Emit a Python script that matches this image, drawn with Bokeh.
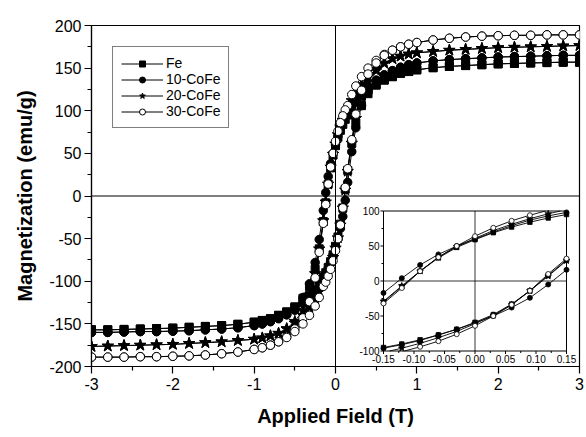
import numpy as np
from bokeh.plotting import figure
from bokeh.models import Range1d, Span, Legend, LegendItem, FixedTicker
from bokeh.core.properties import value
from bokeh.embed import file_html
from bokeh.resources import INLINE

# ---------------- data ----------------
# descending branch: field swept from +3 T to -3 T
field_desc = [3.0, 2.8, 2.6, 2.4, 2.2, 2.0, 1.8, 1.6, 1.4, 1.2,
              1.0, 0.9, 0.8, 0.7, 0.6, 0.5, 0.4,
              0.32, 0.25, 0.2,
              0.15, 0.12, 0.09, 0.06, 0.03, 0.0, -0.03, -0.06, -0.09, -0.12, -0.15,
              -0.2, -0.25, -0.32,
              -0.4, -0.5, -0.6, -0.7, -0.8, -0.9, -1.0,
              -1.2, -1.4, -1.6, -1.8, -2.0, -2.2, -2.4, -2.6, -2.8, -3.0]
# ascending branch: field swept from -3 T to +3 T
field_asc = [-3.0, -2.8, -2.6, -2.4, -2.2, -2.0, -1.8, -1.6, -1.4, -1.2,
             -1.0, -0.9, -0.8, -0.7, -0.6, -0.5, -0.4,
             -0.32, -0.25, -0.2,
             -0.15, -0.12, -0.09, -0.06, -0.03, 0.0, 0.03, 0.06, 0.09, 0.12, 0.15,
             0.2, 0.25, 0.32,
             0.4, 0.5, 0.6, 0.7, 0.8, 0.9, 1.0,
             1.2, 1.4, 1.6, 1.8, 2.0, 2.2, 2.4, 2.6, 2.8, 3.0]

m_fe_desc = [157, 157, 156.5, 156, 155.5, 155, 154, 153, 152, 150.5,
             148, 146, 144, 140, 136, 131, 124,
             117, 110, 103,
             95, 90, 84, 77, 69, 59, 48, 33, 14, -8, -30,
             -62, -86, -106,
             -120, -130, -136, -140, -144, -146, -148,
             -150.5, -152, -153, -154, -155, -155.5, -156, -156.5, -157, -157]
m_fe_asc = [-157, -157, -156.5, -156, -155.5, -155, -154, -153, -152, -150.5,
            -148, -146, -144, -140, -136, -131, -124,
            -117, -110, -103,
            -95, -90, -84, -77, -69, -59, -48, -33, -14, 8, 30,
            62, 86, 106,
            120, 130, 136, 140, 144, 146, 148,
            150.5, 152, 153, 154, 155, 155.5, 156, 156.5, 157, 157]

m_10cofe_desc = [165, 165, 164.5, 164, 163.5, 163, 162, 161, 160, 158.5,
                 156, 154, 151, 147, 142, 136, 128,
                 121, 113, 106,
                 98, 93, 87, 79, 70, 60, 50, 38, 23, 4, -17,
                 -51, -78, -103,
                 -119, -131, -138, -143, -147, -150, -152,
                 -154.5, -156, -157, -158, -158.5, -159, -159, -159.5, -160, -160]
m_10cofe_asc = [-160, -160, -159.5, -159, -159, -158.5, -158, -157, -156, -154.5,
                -152, -150, -147.5, -144, -139.5, -134, -126,
                -119, -111, -104,
                -96, -91, -85, -77, -69, -60, -50, -38, -24, -5, 16,
                52, 80, 106,
                123, 135, 142, 147, 151, 154, 156,
                158.5, 160, 161, 162, 163, 163.5, 164, 164.5, 165, 165]

m_20cofe_desc = [176.5, 176, 175.5, 175, 174.5, 174, 173, 172, 171, 169.5,
                 168, 166.5, 164, 161, 156, 149, 140,
                 131, 121, 112,
                 102, 96, 89, 81, 72, 61, 49, 34, 14, -7, -29,
                 -62, -91, -116,
                 -134, -147, -155.5, -161, -164, -166.5, -168,
                 -169.5, -171, -172, -173, -174, -174.5, -175, -175.5, -176, -176.5]
m_20cofe_asc = [-176.5, -176, -175.5, -175, -174.5, -174, -173, -172, -171, -169.5,
                -168, -166.5, -164, -161, -156, -149, -140,
                -131, -121, -112,
                -102, -96, -89, -81, -72, -61, -49, -34, -14, 7, 29,
                62, 91, 116,
                134, 147, 155.5, 161, 164, 166.5, 168,
                169.5, 171, 172, 173, 174, 174.5, 175, 175.5, 176, 176.5]

m_30cofe_desc = [189, 189, 189, 188.5, 188.5, 188, 187.5, 186.5, 185, 183,
                 180, 178, 175, 171, 166, 159, 150,
                 140, 129, 119,
                 106, 101, 94, 86, 76, 64, 50, 34, 14, -10, -32,
                 -66, -96, -124,
                 -143, -156, -165, -171, -175, -178, -180,
                 -183, -185, -186.5, -187.5, -188, -188.5, -188.5, -189, -189, -189]
m_30cofe_asc = [-189, -189, -189, -188.5, -188.5, -188, -187.5, -186.5, -185, -183,
                -180, -178, -175, -171, -166, -159, -150,
                -140, -129, -119,
                -106, -101, -94, -86, -76, -64, -50, -34, -14, 10, 32,
                66, 96, 124,
                143, 156, 165, 171, 175, 178, 180,
                183, 185, 186.5, 187.5, 188, 188.5, 188.5, 189, 189, 189]

sample_names = ["Fe", "10-CoFe", "20-CoFe", "30-CoFe"]
sample_desc = [m_fe_desc, m_10cofe_desc, m_20cofe_desc, m_30cofe_desc]
sample_asc = [m_fe_asc, m_10cofe_asc, m_20cofe_asc, m_30cofe_asc]

x_ticks = [-3, -2, -1, 0, 1, 2, 3]
x_minor = [-2.5, -1.5, -0.5, 0.5, 1.5, 2.5]
y_ticks = [-200, -150, -100, -50, 0, 50, 100, 150, 200]
y_minor = [-175, -125, -75, -25, 25, 75, 125, 175]

inset_x_ticks = [-0.15, -0.10, -0.05, 0.0, 0.05, 0.10, 0.15]
inset_x_labels = ["-0.15", "-0.10", "-0.05", "0.00", "0.05", "0.10", "0.15"]
inset_x_minor = [-0.125, -0.075, -0.025, 0.025, 0.075, 0.125]
inset_y_ticks = [-100, -50, 0, 50, 100]
inset_y_labels = ["-100", "-50", "0", "50", "100"]
inset_y_minor = [-75, -25, 25, 75]
inset_x_lim = (-0.15, 0.15)
inset_y_lim = (-100, 100)

# ---------------- styles / layout ----------------
FONT = "Liberation Sans"
W, H = 586, 437
BL, BR, BT, BB = 91, 7, 25, 71
markers = ["square", "circle", "star", "circle"]
fills = ["black", "black", "black", "white"]
sizes_main = [8, 8.5, 12, 8.5]
sizes_inset = [4.5, 5, 7, 5]

p = figure(width=W, height=H, x_range=Range1d(-3, 3), y_range=Range1d(-200, 200),
           output_backend="svg", toolbar_location=None,
           min_border_left=BL, min_border_right=BR, min_border_top=BT, min_border_bottom=BB)
p.xgrid.visible = False
p.ygrid.visible = False
p.outline_line_color = "black"
p.outline_line_width = 1.2
p.background_fill_color = "white"
p.border_fill_color = "white"

for ax in (p.xaxis[0], p.yaxis[0]):
    ax.axis_line_color = "black"
    ax.axis_line_width = 1.2
    ax.major_tick_line_color = "black"
    ax.major_tick_line_width = 1.2
    ax.minor_tick_line_color = "black"
    ax.minor_tick_line_width = 1.2
    ax.major_tick_in = 0
    ax.major_tick_out = 7
    ax.minor_tick_in = 0
    ax.minor_tick_out = 4
    ax.major_label_text_font = FONT
    ax.major_label_text_font_size = "16px"
    ax.major_label_text_color = "black"
    ax.axis_label_text_font = FONT
    ax.axis_label_text_font_size = "20px"
    ax.axis_label_text_font_style = "bold"
    ax.axis_label_text_color = "black"

p.xaxis.ticker = FixedTicker(ticks=x_ticks, minor_ticks=x_minor)
p.yaxis.ticker = FixedTicker(ticks=y_ticks, minor_ticks=y_minor)
p.xaxis.major_label_overrides = {t: str(t) for t in x_ticks}
p.yaxis.major_label_overrides = {t: str(t) for t in y_ticks}
p.xaxis.axis_label = "Applied Field (T)"
p.yaxis.axis_label = "Magnetization (emu/g)"
p.xaxis.major_label_standoff = 4
p.xaxis.axis_label_standoff = 12
p.yaxis.major_label_standoff = 3
p.yaxis.axis_label_standoff = 10

p.add_layout(Span(location=0, dimension="height", line_color="black", line_width=1))
p.add_layout(Span(location=0, dimension="width", line_color="black", line_width=1))

# ---------------- main loops ----------------
items = []
for name, md, ma, mk, fc, sz in zip(sample_names, sample_desc, sample_asc, markers, fills, sizes_main):
    hx = list(field_desc) + list(field_asc)
    my = list(md) + list(ma)
    rl = p.line(hx, my, line_color="black", line_width=1)
    rs = p.scatter(hx, my, marker=mk, size=sz, fill_color=fc, line_color="black", line_width=1)
    items.append(LegendItem(label=name, renderers=[rl, rs]))

legend = Legend(items=items, location="top_left", margin=21, padding=8, spacing=0,
                glyph_width=42, glyph_height=15, label_height=15, label_standoff=3,
                label_text_font=FONT, label_text_font_size="14px", label_text_color="black",
                border_line_color="black", border_line_width=1.5,
                background_fill_color="white", background_fill_alpha=1)
p.add_layout(legend)

# ---------------- inset (drawn in its own ranges) ----------------
frame_w = W - BL - BR
frame_h = H - BT - BB
ins_left, ins_right = 292, 475      # pixels from frame left
ins_bottom, ins_top = 15.5, 155.5   # pixels from frame bottom
sx = (inset_x_lim[1] - inset_x_lim[0]) / (ins_right - ins_left)
sy = (inset_y_lim[1] - inset_y_lim[0]) / (ins_top - ins_bottom)
x0 = inset_x_lim[0] - ins_left * sx
y0 = inset_y_lim[0] - ins_bottom * sy
p.extra_x_ranges = {"ix": Range1d(x0, x0 + frame_w * sx)}
p.extra_y_ranges = {"iy": Range1d(y0, y0 + frame_h * sy)}
kw = dict(x_range_name="ix", y_range_name="iy")

xl0, xl1 = inset_x_lim
yl0, yl1 = inset_y_lim
p.quad(left=[xl0], right=[xl1], bottom=[yl0], top=[yl1],
       fill_color="white", line_color="black", line_width=1, **kw)
p.segment(x0=[xl0, 0], y0=[0, yl0], x1=[xl1, 0], y1=[0, yl1],
          line_color="black", line_width=0.8, **kw)

# ticks and tick labels of the inset
p.ray(x=inset_x_ticks, y=[yl0] * len(inset_x_ticks), length=3, length_units="screen",
      angle=-np.pi / 2, line_color="black", line_width=1, **kw)
p.ray(x=inset_x_minor, y=[yl0] * len(inset_x_minor), length=2, length_units="screen",
      angle=-np.pi / 2, line_color="black", line_width=1, **kw)
p.ray(x=[xl0] * len(inset_y_ticks), y=inset_y_ticks, length=3, length_units="screen",
      angle=np.pi, line_color="black", line_width=1, **kw)
p.ray(x=[xl0] * len(inset_y_minor), y=inset_y_minor, length=2, length_units="screen",
      angle=np.pi, line_color="black", line_width=1, **kw)
p.text(x=inset_x_ticks, y=[yl0] * len(inset_x_ticks), text=inset_x_labels,
       text_align="center", text_baseline="top", y_offset=4,
       text_font=value(FONT), text_font_size="10px", text_color="black", **kw)
p.text(x=[xl0] * len(inset_y_ticks), y=inset_y_ticks, text=inset_y_labels,
       text_align="right", text_baseline="middle", x_offset=-4,
       text_font=value(FONT), text_font_size="10px", text_color="black", **kw)


def clip_segment(xa, ya, xb, yb):
    """Liang-Barsky clipping of a segment to the inset box."""
    dx, dy = xb - xa, yb - ya
    t0, t1 = 0.0, 1.0
    for pp, qq in ((-dx, xa - xl0), (dx, xl1 - xa), (-dy, ya - yl0), (dy, yl1 - ya)):
        if pp == 0:
            if qq < 0:
                return None
        else:
            t = qq / pp
            if pp < 0:
                t0 = max(t0, t)
            else:
                t1 = min(t1, t)
            if t0 > t1:
                return None
    return xa + t0 * dx, ya + t0 * dy, xa + t1 * dx, ya + t1 * dy


for name, md, ma, mk, fc, sz in zip(sample_names, sample_desc, sample_asc, markers, fills, sizes_inset):
    hx = list(field_desc) + list(field_asc)
    my = list(md) + list(ma)
    sx0, sy0, sx1, sy1 = [], [], [], []
    for i in range(len(hx) - 1):
        c = clip_segment(hx[i], my[i], hx[i + 1], my[i + 1])
        if c is not None:
            sx0.append(c[0]); sy0.append(c[1]); sx1.append(c[2]); sy1.append(c[3])
    p.segment(x0=sx0, y0=sy0, x1=sx1, y1=sy1, line_color="black", line_width=0.9, **kw)
    inside = [(h, m) for h, m in zip(hx, my)
              if xl0 - 1e-9 <= h <= xl1 + 1e-9 and yl0 <= m <= yl1]
    p.scatter([h for h, _ in inside], [m for _, m in inside], marker=mk, size=sz,
              fill_color=fc, line_color="black", line_width=0.8, **kw)

open("out.html", "w").write(file_html(p, INLINE))
